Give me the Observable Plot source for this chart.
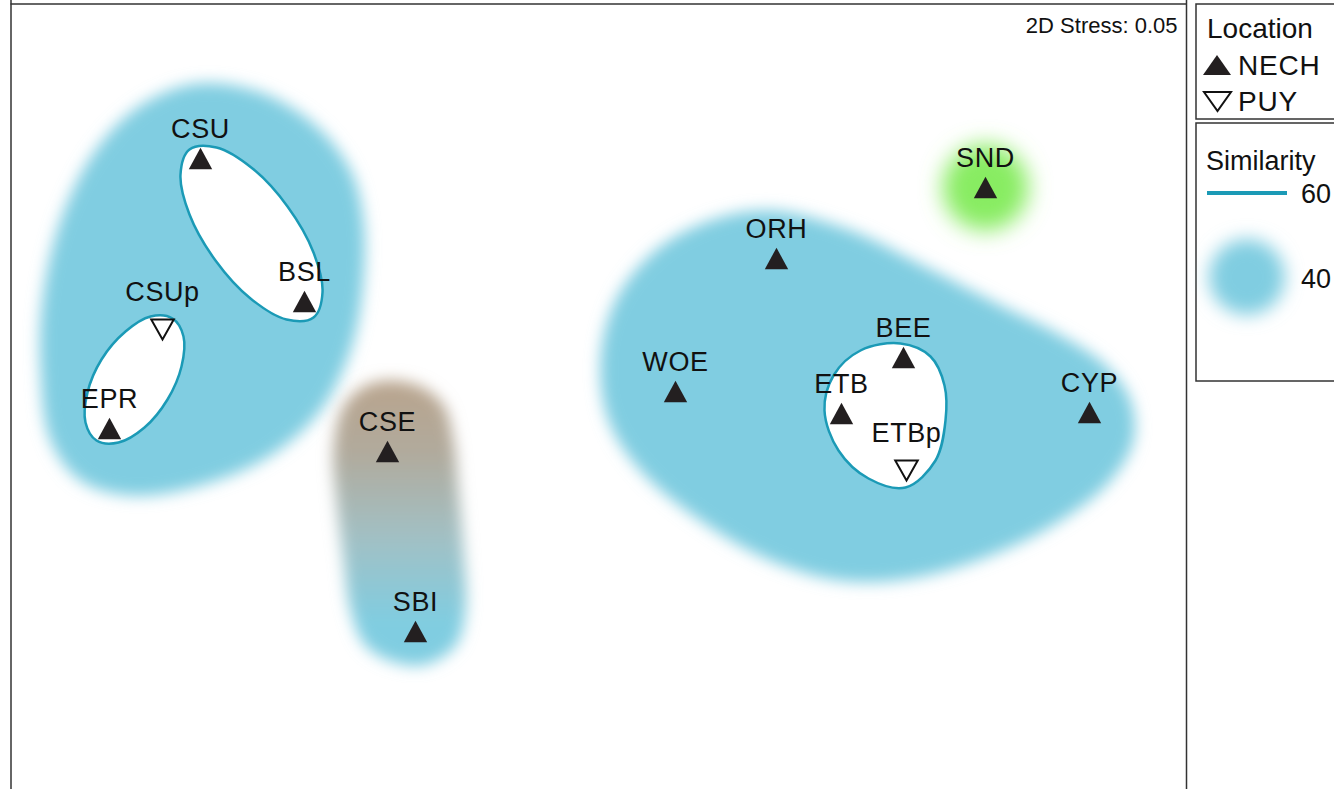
<!DOCTYPE html>
<html>
<head>
<meta charset="utf-8">
<script src="https://cdn.jsdelivr.net/npm/d3@7"></script>
<script src="https://cdn.jsdelivr.net/npm/@observablehq/plot@0.6"></script>
<style>
  html, body { margin: 0; padding: 0; background: #fff; }
  #wrap { position: relative; width: 1334px; height: 789px; overflow: hidden; font-family: "Liberation Sans", Arial, sans-serif; }
  #wrap svg { position: absolute; left: 0; top: 0; }
</style>
</head>
<body>
<div id="wrap"></div>
<script>
// ---------- data (NMDS ordination, plot units) ----------
const sites     = ["CSU","BSL","CSUp","EPR","CSE","SBI","ORH","SND","WOE","BEE","ETB","ETBp","CYP"];
const siteGroup = ["NECH","NECH","PUY","NECH","NECH","NECH","NECH","NECH","NECH","NECH","NECH","PUY","NECH"];
const mds1      = [200, 304, 162, 109, 387, 415, 776, 985, 675, 903, 841, 906, 1089];
const mds2      = [158, 301, 329, 428, 451, 631, 258, 187, 391, 357, 413, 470, 412];

// 40% similarity contours
const blobLeftX  = [197,260,315,350,363,362,350,320,270,200,130,80,50,40,42,60,95,140];
const blobLeftY  = [83,92,125,170,220,290,350,410,455,485,495,480,440,370,300,220,150,105];
const blobRightX = [770,850,920,1000,1060,1105,1130,1133,1110,1060,990,910,840,770,700,640,608,600,615,655,710];
const blobRightY = [210,230,264,305,335,365,400,440,480,520,555,578,580,560,520,470,420,360,300,250,220];
const blobCseX   = [387,420,443,453,458,463,465,455,425,395,365,350,343,336,333,342,362];
const blobCseY   = [380,386,405,440,490,550,610,645,664,662,645,610,560,500,450,408,387];
const blobSndSite = ["SND"];

// 60% similarity contours
const ell1X = [313,286,250,215,189,180,189,216,252,287,313,322];
const ell1Y = [317,319,298,260,214,174,149,147,168,206,252,292];
const ell2X = [96,118,144,167,181,183,172,150,125,101,87,85];
const ell2Y = [440,442,427,399,366,336,318,316,331,359,392,422];
const ell3X = [900,930,944,945,935,905,868,838,824,833,860];
const ell3Y = [343,356,385,420,460,487,478,450,410,375,350];

// frame & annotation
const frameX = [10.5, 1186];
const frameTop = [3.5];
const stressText = ["2D Stress: 0.05"];
const stressPos = {x: 1177, y: 32};

// legend entries
const legendLocations = ["NECH", "PUY"];
const legendSimilarity = ["60", "40"];

// ---------- build ----------
const W = 1334, H = 789;
const pts = sites.map((s, i) => ({site: s, group: siteGroup[i], x: mds1[i], y: mds2[i]}));
const poly = (xs, ys) => xs.map((x, i) => ({x, y: ys[i]}));

const triUp = {draw(ctx, size) { const k = Math.sqrt(size / Math.PI), hw = k * 1.3, hh = k * 1.2;
  ctx.moveTo(0, -hh); ctx.lineTo(hw, hh); ctx.lineTo(-hw, hh); ctx.closePath(); }};
const triDown = {draw(ctx, size) { const k = Math.sqrt(size / Math.PI), hw = k * 1.25, hh = k * 1.1;
  ctx.moveTo(0, hh); ctx.lineTo(hw, -hh); ctx.lineTo(-hw, -hh); ctx.closePath(); }};

const blue = "#80cde1", teal = "#1b9ab6", green = "#88ec62";

const chart = Plot.plot({
  width: W, height: H, margin: 0,
  x: {domain: [0, W], range: [0, W], axis: null},
  y: {domain: [0, H], range: [0, H], axis: null},
  style: {background: "transparent", fontFamily: "'Liberation Sans', Arial, sans-serif", overflow: "visible"},
  marks: [
    Plot.line(poly(blobLeftX, blobLeftY), {x: "x", y: "y", curve: "catmull-rom-closed", fill: blue, stroke: "none"}),
    Plot.line(poly(blobRightX, blobRightY), {x: "x", y: "y", curve: "catmull-rom-closed", fill: blue, stroke: "none"}),
    Plot.line(poly(blobCseX, blobCseY), {x: "x", y: "y", curve: "catmull-rom-closed", fill: "url(#cseGrad)", stroke: "none"}),
    Plot.dot(pts.filter(d => blobSndSite.includes(d.site)), {x: "x", y: "y", r: 43, fill: green, stroke: "none"}),
    Plot.line(poly(ell1X, ell1Y), {x: "x", y: "y", curve: "catmull-rom-closed", fill: "white", stroke: teal, strokeWidth: 2.5}),
    Plot.line(poly(ell2X, ell2Y), {x: "x", y: "y", curve: "catmull-rom-closed", fill: "white", stroke: teal, strokeWidth: 2.5}),
    Plot.line(poly(ell3X, ell3Y), {x: "x", y: "y", curve: "catmull-rom-closed", fill: "white", stroke: teal, strokeWidth: 2.5}),
    Plot.ruleX(frameX, {stroke: "#333", strokeWidth: 1.5}),
    Plot.ruleY(frameTop, {x1: frameX[0], x2: frameX[1], stroke: "#333", strokeWidth: 1.5}),
    Plot.text(stressText, {x: () => stressPos.x, y: () => stressPos.y, text: d => d, textAnchor: "end", lineAnchor: "bottom", fontSize: 22, fill: "#111"}),
    Plot.dot(pts.filter(d => d.group === "NECH"), {x: "x", y: "y", symbol: triUp, r: 9, fill: "#231f20", stroke: "none"}),
    Plot.dot(pts.filter(d => d.group === "PUY"), {x: "x", y: "y", symbol: triDown, r: 9, fill: "white", stroke: "#111", strokeWidth: 2}),
    Plot.text(pts.filter(d => d.group === "NECH"), {x: "x", y: "y", text: "site", dy: -21, lineAnchor: "bottom", fontSize: 27, fill: "#111"}),
    Plot.text(pts.filter(d => d.group === "PUY"), {x: "x", y: "y", text: "site", dy: -29, lineAnchor: "bottom", fontSize: 27, fill: "#111"})
  ]
});

const svg = d3.select(chart);
const defs = svg.insert("defs", ":first-child");
const grad = defs.append("linearGradient").attr("id", "cseGrad").attr("x1", 0).attr("y1", 0).attr("x2", 0).attr("y2", 1);
grad.append("stop").attr("offset", "0%").attr("stop-color", "#b9a48d");
grad.append("stop").attr("offset", "25%").attr("stop-color", "#b1aa9c");
grad.append("stop").attr("offset", "55%").attr("stop-color", "#a2c0c4");
grad.append("stop").attr("offset", "85%").attr("stop-color", blue);
grad.append("stop").attr("offset", "100%").attr("stop-color", blue);
const flt = defs.append("filter").attr("id", "soft").attr("x", "-30%").attr("y", "-30%").attr("width", "160%").attr("height", "160%");
flt.append("feGaussianBlur").attr("stdDeviation", 7.5);
const flt2 = defs.append("filter").attr("id", "softer").attr("x", "-50%").attr("y", "-50%").attr("width", "200%").attr("height", "200%");
flt2.append("feGaussianBlur").attr("stdDeviation", 11);

// blur the 40% similarity areas: first three line groups + first dot group
const lineGroups = chart.querySelectorAll('g[aria-label="line"]');
for (let i = 0; i < 3 && i < lineGroups.length; i++) lineGroups[i].setAttribute("filter", "url(#soft)");
const dotGroups = chart.querySelectorAll('g[aria-label="dot"]');
if (dotGroups.length) dotGroups[0].setAttribute("filter", "url(#softer)");
// site labels: slightly wider lettering as in the original
chart.querySelectorAll('g[aria-label="text"]').forEach((g, i) => { if (i > 0) g.setAttribute("letter-spacing", "0.6"); });

const wrap = document.getElementById("wrap");
wrap.appendChild(chart);

// ---------- legend ----------
const lg = d3.select(wrap).append("svg").attr("width", W).attr("height", H)
  .style("font-family", "'Liberation Sans', Arial, sans-serif");
const ldefs = lg.append("defs");
ldefs.append("filter").attr("id", "soft2").attr("x", "-50%").attr("y", "-50%").attr("width", "200%").attr("height", "200%")
  .append("feGaussianBlur").attr("stdDeviation", 9);
const fs = 28;
lg.append("rect").attr("x", 1196).attr("y", 4).attr("width", 200).attr("height", 115).attr("fill", "none").attr("stroke", "#333").attr("stroke-width", 1.5);
lg.append("text").attr("x", 1207).attr("y", 38).attr("font-size", fs).attr("fill", "#111").text("Location");
lg.append("path").attr("d", "M1217,55L1231,75L1203,75Z").attr("fill", "#231f20");
lg.append("text").attr("x", 1238).attr("y", 75).attr("font-size", fs).attr("letter-spacing", 0.8).attr("fill", "#111").text(legendLocations[0]);
lg.append("path").attr("d", "M1204,92L1231,92L1217.5,111Z").attr("fill", "white").attr("stroke", "#111").attr("stroke-width", 2);
lg.append("text").attr("x", 1238).attr("y", 111).attr("font-size", fs).attr("letter-spacing", 0.8).attr("fill", "#111").text(legendLocations[1]);

lg.append("rect").attr("x", 1196).attr("y", 123).attr("width", 200).attr("height", 258).attr("fill", "none").attr("stroke", "#333").attr("stroke-width", 1.5);
lg.append("text").attr("x", 1206).attr("y", 170).attr("font-size", 27).attr("fill", "#111").text("Similarity");
lg.append("line").attr("x1", 1207).attr("x2", 1287).attr("y1", 193).attr("y2", 193).attr("stroke", teal).attr("stroke-width", 4);
lg.append("text").attr("x", 1301).attr("y", 203).attr("font-size", 27).attr("fill", "#111").text(legendSimilarity[0]);
lg.append("circle").attr("cx", 1247).attr("cy", 277).attr("r", 38).attr("fill", blue).attr("filter", "url(#soft2)");
lg.append("text").attr("x", 1301).attr("y", 288).attr("font-size", 27).attr("fill", "#111").text(legendSimilarity[1]);
</script>
</body>
</html>
